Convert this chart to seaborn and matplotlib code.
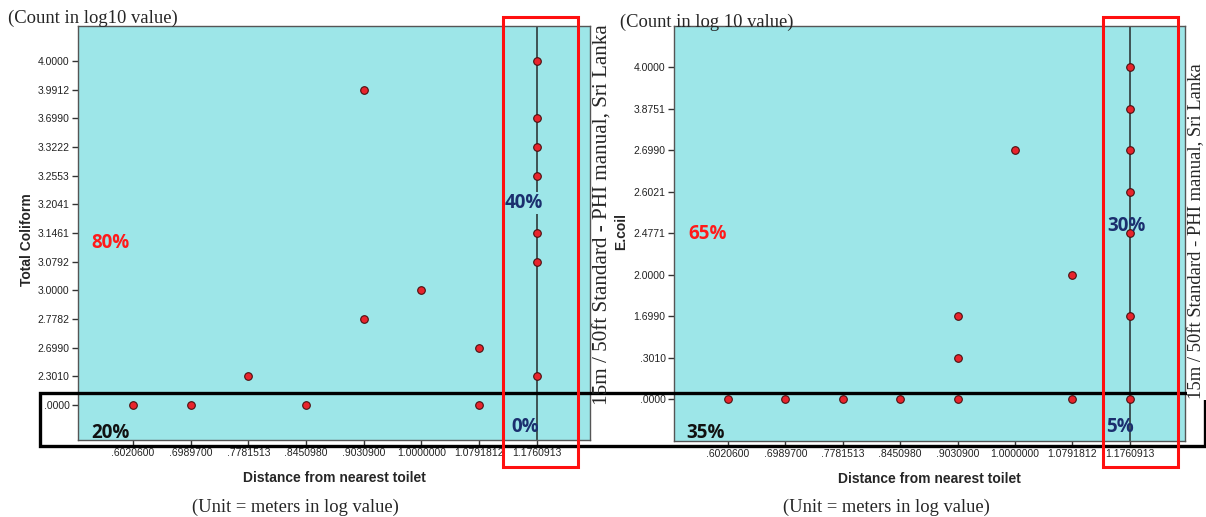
import matplotlib
matplotlib.use("Agg")
import matplotlib.pyplot as plt
from matplotlib.patches import Rectangle
import pandas as pd
import seaborn as sns

sns.set_style("white")
plt.rcParams["font.family"] = ["Liberation Sans", "DejaVu Sans"]

# 공통 x 범주 (Distance from nearest toilet, log10 m)
x_cats = [".6020600", ".6989700", ".7781513", ".8450980",
          ".9030900", "1.0000000", "1.0791812", "1.1760913"]

# Total Coliform 패널
tc_y_cats = [".0000", "2.3010", "2.6990", "2.7782", "3.0000", "3.0792", "3.1461",
             "3.2041", "3.2553", "3.3222", "3.6990", "3.9912", "4.0000"]
tc_x = [".6020600", ".6989700", ".8450980", "1.0791812", ".7781513", ".9030900",
        ".9030900", "1.0000000", "1.0791812",
        "1.1760913", "1.1760913", "1.1760913", "1.1760913", "1.1760913",
        "1.1760913", "1.1760913", "1.1760913"]
tc_y = [".0000", ".0000", ".0000", ".0000", "2.3010", "3.9912",
        "2.7782", "3.0000", "2.6990",
        "4.0000", "3.6990", "3.3222", "3.2553", "3.2041",
        "3.1461", "3.0792", "2.3010"]

# E.coil 패널
ec_y_cats = [".0000", ".3010", "1.6990", "2.0000", "2.4771",
             "2.6021", "2.6990", "3.8751", "4.0000"]
ec_x = [".6020600", ".6989700", ".7781513", ".8450980", ".9030900", "1.0791812",
        "1.1760913", ".9030900", ".9030900", "1.1760913", "1.0791812",
        "1.1760913", "1.1760913", "1.0000000", "1.1760913", "1.1760913", "1.1760913"]
ec_y = [".0000", ".0000", ".0000", ".0000", ".0000", ".0000",
        ".0000", ".3010", "1.6990", "1.6990", "2.0000",
        "2.4771", "2.6021", "2.6990", "2.6990", "3.8751", "4.0000"]

W, H = 1206, 517
BG = "#9de6e8"
DOT = "#e8242c"
NAVY = "#1b2f6e"
SERIF = ["Liberation Serif", "DejaVu Serif"]


def fx(px):
    return px / W


def fy(py):
    return 1 - py / H


def draw_panel(ax, xs, ys, y_cats, ylim, xlim, ylabel):
    df = pd.DataFrame({
        "x": [x_cats.index(v) for v in xs],
        "y": [y_cats.index(v) for v in ys],
    })
    ax.set_facecolor(BG)
    ax.axvline(x_cats.index("1.1760913"), color="#2e3a3a", lw=1.2, zorder=1)
    sns.scatterplot(data=df, x="x", y="y", ax=ax, s=30, color=DOT,
                    edgecolor="#4a1010", linewidth=0.8, zorder=3)
    ax.set_xticks(range(len(x_cats)))
    ax.set_xticklabels(x_cats, fontsize=7.5, color="#222")
    ax.set_yticks(range(len(y_cats)))
    ax.set_yticklabels(y_cats, fontsize=7.5, color="#222")
    ax.set_xlim(*xlim)
    ax.set_ylim(*ylim)
    ax.tick_params(axis="both", direction="out", length=4, width=1,
                   color="#333", left=True, bottom=True, pad=2)
    for sp in ax.spines.values():
        sp.set_color("#555")
        sp.set_linewidth(1)
    ax.set_xlabel("Distance from nearest toilet", fontsize=10, fontweight="bold")
    ax.set_ylabel(ylabel, fontsize=10, fontweight="bold")


fig = plt.figure(figsize=(W / 100, H / 100), dpi=100)
ax1 = fig.add_axes([fx(78), fy(440), fx(590 - 78), (440 - 26) / H])
ax2 = fig.add_axes([fx(674), fy(441), fx(1185 - 674), (441 - 26) / H])

draw_panel(ax1, tc_x, tc_y, tc_y_cats, (-1.22, 13.22), (-0.95, 7.92), "Total Coliform")
draw_panel(ax2, ec_x, ec_y, ec_y_cats, (-1.01, 8.99), (-0.94, 7.96), "E.coil")

ax1.xaxis.set_label_coords(0.50, -0.075)
ax1.yaxis.set_label_coords(-0.086, 0.483)
ax2.xaxis.set_label_coords(0.50, -0.075)
ax2.yaxis.set_label_coords(-0.090, 0.504)

# 강조 박스
for x0 in (503, 1103):
    fig.add_artist(Rectangle((fx(x0), fy(467)), fx(75), 450 / H, transform=fig.transFigure,
                             fill=False, edgecolor="#ff1010", lw=2.2, zorder=10))
fig.add_artist(Rectangle((fx(40), fy(446)), fx(1205 - 40), 53 / H, transform=fig.transFigure,
                         fill=False, edgecolor="black", lw=2.4, zorder=9))

# 퍼센트 주석
labels = [
    ("80%", 111, 243, "#ff1a1a", None), ("20%", 110, 433, "#111111", None),
    ("40%", 524, 203, NAVY, BG), ("0%", 525, 427, NAVY, None),
    ("65%", 708, 234, "#ff1a1a", None), ("35%", 706, 433, "#111111", None),
    ("30%", 1126, 226, NAVY, None), ("5%", 1120, 427, NAVY, None),
]
for txt, px, py, col, bg in labels:
    kw = {}
    if bg:
        kw["bbox"] = dict(facecolor=bg, edgecolor="none", pad=1)
    fig.text(fx(px), fy(py), txt, color=col, fontsize=13.5, fontweight="bold",
             family=["Open Sans", "DejaVu Sans"], ha="center", va="center", zorder=8, **kw)

# 기준선 설명 (세로 글자)
std = "15m / 50ft Standard - PHI manual, Sri Lanka"
fig.text(fx(603), fy(215), std, rotation=90, ha="center", va="center",
         family=SERIF, fontsize=15.2, zorder=11)
fig.text(fx(1197), fy(231), std, rotation=90, ha="center", va="center",
         family=SERIF, fontsize=13.4, zorder=11,
         bbox=dict(facecolor="white", edgecolor="none", pad=1))

fig.text(fx(8), fy(18), "(Count in log10 value)", ha="left", va="center",
         family=SERIF, fontsize=13.4, zorder=11)
fig.text(fx(620), fy(22), "(Count in log 10 value)", ha="left", va="center",
         family=SERIF, fontsize=13.3, zorder=11)
fig.text(fx(295), fy(507), "(Unit = meters in log value)", ha="center", va="center",
         family=SERIF, fontsize=13.3)
fig.text(fx(886), fy(507), "(Unit = meters in log value)", ha="center", va="center",
         family=SERIF, fontsize=13.3)

fig.savefig("out.png", dpi=100, facecolor="white")
